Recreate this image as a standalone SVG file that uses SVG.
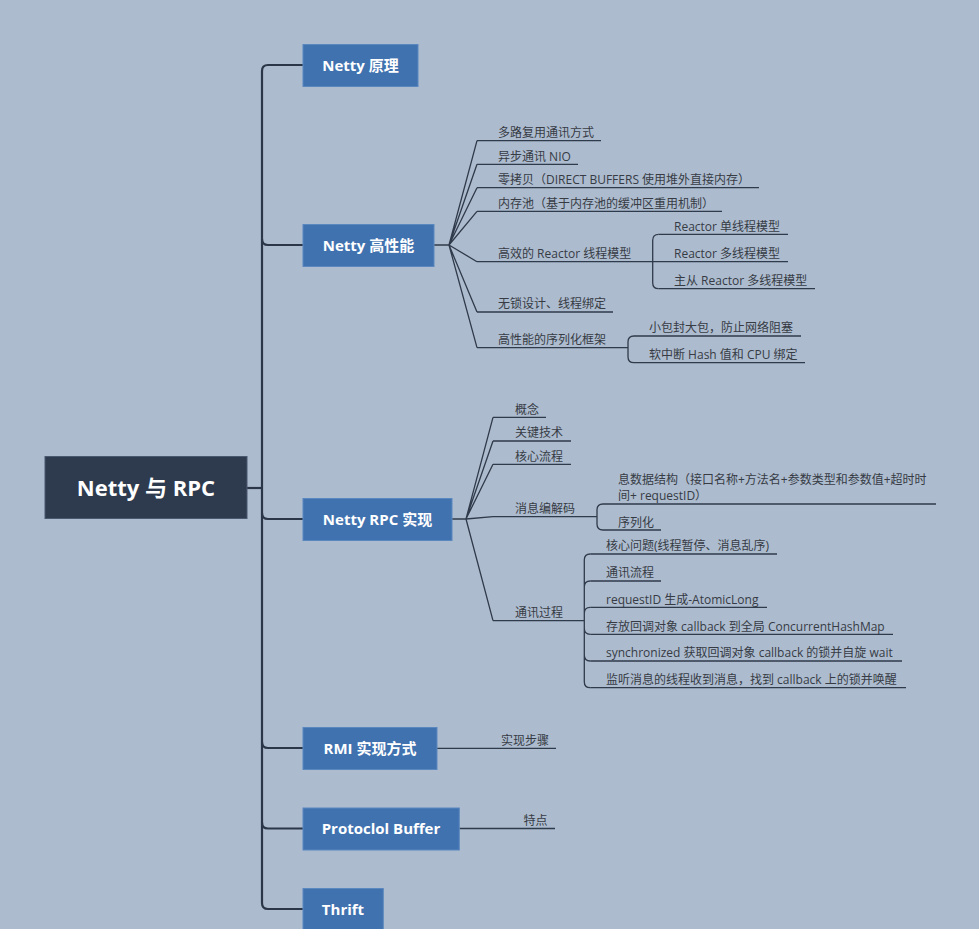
<svg xmlns="http://www.w3.org/2000/svg" width="979" height="929" viewBox="0 0 979 929">
<style>
.bg{fill:#adbbcf}
.topic{fill:#4072b0;stroke:#5b87bf;stroke-width:1}
.root{fill:#2e3b4e;stroke:#4a5870;stroke-width:1}
.tt{font-family:"Open Sans","Noto Sans CJK SC",sans-serif;font-weight:bold;font-size:15px;fill:#ffffff;text-anchor:middle}
.rt{font-family:"Open Sans","Noto Sans CJK SC",sans-serif;font-weight:bold;font-size:22px;fill:#ffffff;text-anchor:middle}
.st{font-family:"Open Sans","Noto Sans CJK SC",sans-serif;font-size:12px;fill:#363b44}
.ul{fill:none;stroke:#2f3a4a;stroke-width:1.3}
.trunk{fill:none;stroke:#2b3748;stroke-width:2.2}
.fan{fill:none;stroke:#2f3a4a;stroke-width:1.3}
</style>
<rect class="bg" x="0" y="0" width="979" height="929"/>

<g id="connectors">
  <path class="trunk" d="M247 488 H262"/>
  <path class="trunk" d="M303 65 H268 Q262 65 262 71 V903 Q262 909 268 909 H303"/>
  <path class="trunk" d="M262 239 Q262 245 268 245 H303"/>
  <path class="trunk" d="M262 513 Q262 519 268 519 H303"/>
  <path class="trunk" d="M262 742 Q262 748 268 748 H303"/>
  <path class="trunk" d="M262 822.5 Q262 828.5 268 828.5 H303"/>
  <!-- Netty 高性能 fan -->
  <path class="fan" d="M434 245 H449 M449 245 L477 140.7 M449 245 L477 164.3 M449 245 L477 187.7 M449 245 L477 211.3 M449 245 L477 261.7 M449 245 L477 312 M449 245 L477 347.7"/>
  <!-- Reactor bracket -->
  <path class="fan" d="M652.7 261.7 V240.3 Q652.7 234.3 658.7 234.3 M652.7 261.7 V282.7 Q652.7 288.7 658.7 288.7"/>
  <!-- serialization bracket -->
  <path class="fan" d="M628 347.7 V342 Q628 336 634 336 M628 347.7 V356.7 Q628 362.7 634 362.7"/>
  <!-- Netty RPC fan -->
  <path class="fan" d="M452 519 H466 M466 519 L493 417.3 M466 519 L493 441 M466 519 L493 464.3 M466 519 L493 516.7 M466 519 L493 620.7"/>
  <!-- codec bracket -->
  <path class="fan" d="M597 516.7 V510 Q597 504 603 504 M597 516.7 V524 Q597 530 603 530"/>
  <!-- comm bracket -->
  <path class="fan" d="M584.3 620.7 V560 Q584.3 554 590.3 554 M584.3 620.7 V587 Q584.3 581 590.3 581 M584.3 620.7 V613.3 Q584.3 607.3 590.3 607.3 M584.3 620.7 V628.3 Q584.3 634.3 590.3 634.3 M584.3 620.7 V655 Q584.3 661 590.3 661 M584.3 620.7 V681.7 Q584.3 687.7 590.3 687.7"/>
  <!-- RMI / Protobuf -->
  <path class="fan" d="M437 748.3 H500"/>
  <path class="fan" d="M459.3 828.5 H500"/>
</g>

<g id="root">
  <rect class="root" x="45" y="456.5" width="202" height="62"/>
  <text class="rt" x="146" y="496">Netty 与 RPC</text>
</g>

<g id="netty-principle">
  <rect class="topic" x="303" y="44.5" width="115" height="42"/>
  <text class="tt" x="360.5" y="70.5">Netty 原理</text>
</g>

<g id="netty-perf">
  <rect class="topic" x="303" y="224.5" width="131" height="42"/>
  <text class="tt" x="368.5" y="250.5">Netty 高性能</text>
</g>
<g id="perf-1"><text class="st" x="498" y="137">多路复用通讯方式</text><path class="ul" d="M477 140.7 H601"/></g>
<g id="perf-2"><text class="st" x="498" y="160.5">异步通讯 NIO</text><path class="ul" d="M477 164.3 H578"/></g>
<g id="perf-3"><text class="st" x="498" y="184">零拷贝（DIRECT BUFFERS 使用堆外直接内存）</text><path class="ul" d="M477 187.7 H759"/></g>
<g id="perf-4"><text class="st" x="498" y="207.5">内存池（基于内存池的缓冲区重用机制）</text><path class="ul" d="M477 211.3 H722"/></g>
<g id="perf-5"><text class="st" x="498" y="258">高效的 Reactor 线程模型</text><path class="ul" d="M477 261.7 H652.7"/></g>
<g id="perf-5-1"><text class="st" x="674" y="230.5">Reactor 单线程模型</text><path class="ul" d="M658.7 234.3 H788"/></g>
<g id="perf-5-2"><text class="st" x="674" y="258">Reactor 多线程模型</text><path class="ul" d="M652.7 261.7 H788"/></g>
<g id="perf-5-3"><text class="st" x="674" y="285">主从 Reactor 多线程模型</text><path class="ul" d="M658.7 288.7 H815"/></g>
<g id="perf-6"><text class="st" x="498" y="308">无锁设计、线程绑定</text><path class="ul" d="M477 312 H613"/></g>
<g id="perf-7"><text class="st" x="498" y="344">高性能的序列化框架</text><path class="ul" d="M477 347.7 H628"/></g>
<g id="perf-7-1"><text class="st" x="649" y="332">小包封大包，防止网络阻塞</text><path class="ul" d="M634 336 H801"/></g>
<g id="perf-7-2"><text class="st" x="649" y="359">软中断 Hash 值和 CPU 绑定</text><path class="ul" d="M634 362.7 H805"/></g>

<g id="netty-rpc">
  <rect class="topic" x="303" y="498.5" width="149" height="42"/>
  <text class="tt" x="377.5" y="524.5">Netty RPC 实现</text>
</g>
<g id="rpc-1"><text class="st" x="515" y="413.5">概念</text><path class="ul" d="M493 417.3 H546"/></g>
<g id="rpc-2"><text class="st" x="515" y="437">关键技术</text><path class="ul" d="M493 441 H571"/></g>
<g id="rpc-3"><text class="st" x="515" y="460.5">核心流程</text><path class="ul" d="M493 464.3 H571"/></g>
<g id="rpc-4"><text class="st" x="515" y="513">消息编解码</text><path class="ul" d="M493 516.7 H597"/></g>
<g id="rpc-4-1"><text class="st" x="618" y="484"><tspan x="618" y="484">息数据结构（接口名称+方法名+参数类型和参数值+超时时</tspan><tspan x="618" y="500">间+ requestID）</tspan></text><path class="ul" d="M603 504 H936"/></g>
<g id="rpc-4-2"><text class="st" x="618" y="526.5">序列化</text><path class="ul" d="M603 530 H661"/></g>
<g id="rpc-5"><text class="st" x="515" y="617">通讯过程</text><path class="ul" d="M493 620.7 H584.3"/></g>
<g id="rpc-5-1"><text class="st" x="606" y="550">核心问题(线程暂停、消息乱序)</text><path class="ul" d="M590.3 554 H777"/></g>
<g id="rpc-5-2"><text class="st" x="606" y="577">通讯流程</text><path class="ul" d="M590.3 581 H661"/></g>
<g id="rpc-5-3"><text class="st" x="606" y="603.5">requestID 生成-AtomicLong</text><path class="ul" d="M590.3 607.3 H767"/></g>
<g id="rpc-5-4"><text class="st" x="606" y="630.5">存放回调对象 callback 到全局 ConcurrentHashMap</text><path class="ul" d="M590.3 634.3 H893"/></g>
<g id="rpc-5-5"><text class="st" x="606" y="657">synchronized 获取回调对象 callback 的锁并自旋 wait</text><path class="ul" d="M590.3 661 H902"/></g>
<g id="rpc-5-6"><text class="st" x="606" y="684">监听消息的线程收到消息，找到 callback 上的锁并唤醒</text><path class="ul" d="M590.3 687.7 H906"/></g>

<g id="rmi">
  <rect class="topic" x="303" y="727.5" width="134" height="42"/>
  <text class="tt" x="370" y="753.5">RMI 实现方式</text>
</g>
<g id="rmi-1"><text class="st" x="501" y="744.5">实现步骤</text><path class="ul" d="M500 748.3 H556"/></g>

<g id="protobuf">
  <rect class="topic" x="303" y="808" width="156.3" height="42"/>
  <text class="tt" x="381" y="834">Protoclol Buffer</text>
</g>
<g id="protobuf-1"><text class="st" x="523.5" y="825">特点</text><path class="ul" d="M500 828.5 H555"/></g>

<g id="thrift">
  <rect class="topic" x="303" y="888.5" width="80.3" height="42"/>
  <text class="tt" x="343" y="914.5">Thrift</text>
</g>
</svg>
